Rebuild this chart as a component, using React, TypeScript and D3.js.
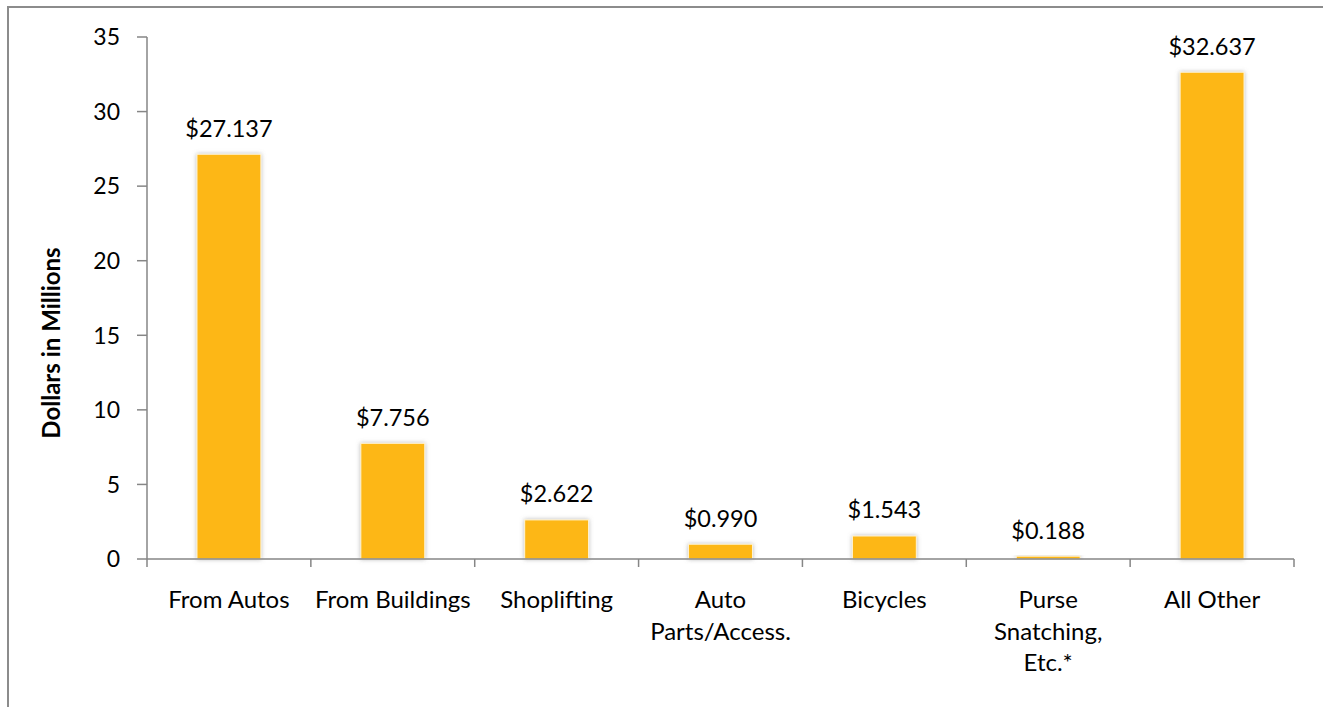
import React from 'react'
import { scaleLinear, scaleBand } from 'd3'

const categories: string[][] = [
  ['From Autos'],
  ['From Buildings'],
  ['Shoplifting'],
  ['Auto', 'Parts/Access.'],
  ['Bicycles'],
  ['Purse', 'Snatching,', 'Etc.*'],
  ['All Other'],
]
const values: number[] = [27.137, 7.756, 2.622, 0.99, 1.543, 0.188, 32.637]
const valueLabels: string[] = ['$27.137', '$7.756', '$2.622', '$0.990', '$1.543', '$0.188', '$32.637']
const yTicks: number[] = [0, 5, 10, 15, 20, 25, 30, 35]

const W = 1323, H = 707
const margin = { top: 37, right: 29, bottom: 148, left: 147 }
const FONT = 'Lato, "Open Sans", sans-serif'
const AXIS = '#868686'
const BAR = '#FDB714'

export default function App() {
  const x = scaleBand<number>()
    .domain(values.map((_, i) => i))
    .range([margin.left, W - margin.right])
  const y = scaleLinear().domain([0, 35]).range([H - margin.bottom, margin.top])
  const barW = x.bandwidth() * 0.39
  const y0 = y(0)

  return (
    <div style={{ position: 'fixed', left: 0, top: 0 }}>
      <svg width={W} height={H} style={{ display: 'block', background: '#fff' }}>
        <defs>
          <filter id="shadow" x="-30%" y="-30%" width="160%" height="160%">
            <feDropShadow dx="0" dy="0" stdDeviation="2" floodColor="#808080" floodOpacity="0.55" />
          </filter>
        </defs>
        <rect x={8} y={7} width={W + 20} height={H + 20} fill="none" stroke="#8c8c8c" strokeWidth={2} />

        {/* bars */}
        {values.map((v, i) => (
          <rect
            key={i}
            x={(x(i) ?? 0) + x.bandwidth() / 2 - barW / 2}
            y={y(v)}
            width={barW}
            height={y0 - y(v)}
            fill={BAR}
            stroke="#fff4d6"
            strokeWidth={1}
            filter="url(#shadow)"
          />
        ))}

        {/* y axis */}
        <line x1={margin.left} x2={margin.left} y1={y(35)} y2={y0} stroke={AXIS} strokeWidth={1.5} />
        {yTicks.map((t) => (
          <g key={t}>
            <line x1={margin.left - 10} x2={margin.left} y1={y(t)} y2={y(t)} stroke={AXIS} strokeWidth={1.5} />
            <text x={margin.left - 27} y={y(t)} dy="0.36em" textAnchor="end" fontFamily={FONT} fontSize={23} fill="#000">
              {t}
            </text>
          </g>
        ))}

        {/* x axis */}
        <line x1={margin.left} x2={W - margin.right} y1={y0} y2={y0} stroke={AXIS} strokeWidth={1.5} />
        {[...values.map((_, i) => x(i) ?? 0), W - margin.right].map((px, i) => (
          <line key={i} x1={px} x2={px} y1={y0} y2={y0 + 8} stroke={AXIS} strokeWidth={1.5} />
        ))}

        {/* value labels */}
        {values.map((v, i) => (
          <text
            key={i}
            x={(x(i) ?? 0) + x.bandwidth() / 2}
            y={y(v) - 17.5}
            textAnchor="middle"
            fontFamily={FONT}
            fontSize={23.5}
            fill="#000"
          >
            {valueLabels[i]}
          </text>
        ))}

        {/* category labels */}
        {categories.map((lines, i) => (
          <text key={i} textAnchor="middle" fontFamily={FONT} fontSize={24} fill="#000">
            {lines.map((l, j) => (
              <tspan key={j} x={(x(i) ?? 0) + x.bandwidth() / 2} y={608 + j * 31.5}>
                {l}
              </tspan>
            ))}
          </text>
        ))}

        {/* y title */}
        <text
          transform={`translate(60, 343) rotate(-90)`}
          textAnchor="middle"
          fontFamily={FONT}
          fontWeight="bold"
          fontSize={24}
          fill="#000"
        >
          Dollars in Millions
        </text>
      </svg>
    </div>
  )
}
